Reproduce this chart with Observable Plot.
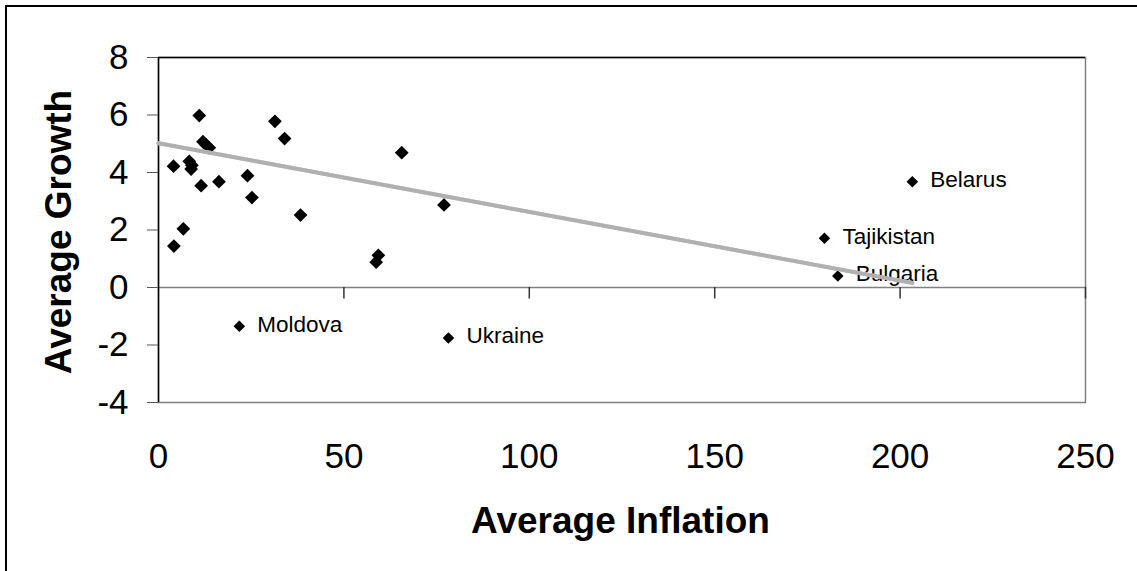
<!DOCTYPE html>
<html>
<head>
<meta charset="utf-8">
<script src="https://cdn.jsdelivr.net/npm/d3@7"></script>
<script src="https://cdn.jsdelivr.net/npm/@observablehq/plot@0.6"></script>
<style>
  html, body { margin: 0; padding: 0; background: #fff; overflow: hidden; }
  #wrap { position: relative; width: 1137px; height: 571px; }
  #border { position: absolute; left: 5px; top: 5px; width: 1200px; height: 700px; border: 2px solid #000; pointer-events: none; }
  #chart svg { display: block; }
</style>
</head>
<body>
<div id="wrap"><div id="chart"></div><div id="border"></div></div>
<script>
// Unlabelled countries
const inflation = [4.05, 4.15, 6.7, 11.0, 8.3, 9.0, 8.8, 11.5, 12.0, 12.9, 13.7, 16.3, 24.0, 25.2, 31.4, 34.0, 38.3, 59.3, 58.7, 65.6, 77.0];
const growth    = [4.22, 1.44, 2.04, 5.98, 4.39, 4.25, 4.12, 3.54, 5.07, 4.95, 4.86, 3.68, 3.89, 3.13, 5.78, 5.18, 2.52, 1.12, 0.88, 4.69, 2.87];

// Labelled countries
const countries   = ["Moldova", "Ukraine", "Belarus", "Tajikistan", "Bulgaria"];
const labInflation = [21.8, 78.2, 203.3, 179.6, 183.2];
const labGrowth    = [-1.35, -1.76, 3.68, 1.71, 0.40];

// Linear trend line end points
const trendX = [0, 203.3];
const trendY = [5.02, 0.16];

// Axis ticks
const xTicks = [0, 50, 100, 150, 200, 250];
const yTicks = [-4, -2, 0, 2, 4, 6, 8];

const pts = inflation.map((x, i) => ({x, y: growth[i]}));
const labs = countries.map((name, i) => ({name, x: labInflation[i], y: labGrowth[i]}));
const trend = trendX.map((x, i) => ({x, y: trendY[i]}));

const font = "'Liberation Sans', Arial, sans-serif";

const chart = Plot.plot({
  width: 1137,
  height: 571,
  marginLeft: 158,
  marginRight: 52,
  marginTop: 57,
  marginBottom: 169,
  style: {fontFamily: font, fontSize: "35px", color: "#000", background: "#fff"},
  x: {domain: [0, 250], label: null},
  y: {domain: [-4, 8], label: null},
  marks: [
    Plot.frame({stroke: "#808080", strokeWidth: 1.5}),
    Plot.ruleY([8], {stroke: "#000", strokeWidth: 1.5}),
    Plot.ruleY([0], {stroke: "#808080", strokeWidth: 1.5}),
    Plot.ruleX(xTicks.filter(d => d > 0), {x: d => d, y1: 0, y2: -0.4, stroke: "#333", strokeWidth: 1.5}),
    Plot.ruleX([0], {stroke: "#000", strokeWidth: 1.5}),
    Plot.axisY({ticks: yTicks, tickSize: 11, tickPadding: 19, tickFormat: d => String(d), stroke: "#555", fontSize: 35, label: null}),
    Plot.axisX({ticks: xTicks, tickSize: 0, tickPadding: 41, tickFormat: d => String(d), fontSize: 35, label: null}),
    Plot.dot(pts, {x: "x", y: "y", symbol: "diamond2", r: 6.2, fill: "#000", stroke: "none"}),
    Plot.dot(labs, {x: "x", y: "y", symbol: "diamond2", r: 5.2, fill: "#000", stroke: "none"}),
    Plot.text(labs, {x: "x", y: "y", text: "name", textAnchor: "start", dx: 18, dy: -2, fontSize: 22.5, fill: "#000"}),
    Plot.line(trend, {x: "x", y: "y", stroke: "#d8d8d8", strokeWidth: 4}),
    Plot.line(trend, {x: "x", y: "y", stroke: "#b0b0b0", strokeWidth: 4, strokeDasharray: "1 1"}),
    Plot.text(["Average Growth"], {text: d => d, frameAnchor: "left", rotate: -90, lineAnchor: "bottom", textAnchor: "middle", dx: -88, dy: 2, fontSize: 37, fontWeight: "bold", fill: "#000"}),
    Plot.text(["Average Inflation"], {text: d => d, frameAnchor: "bottom", lineAnchor: "bottom", textAnchor: "middle", dx: -1.5, dy: 130, fontSize: 37, fontWeight: "bold", fill: "#000"})
  ]
});
document.getElementById("chart").appendChild(chart);
</script>
</body>
</html>
